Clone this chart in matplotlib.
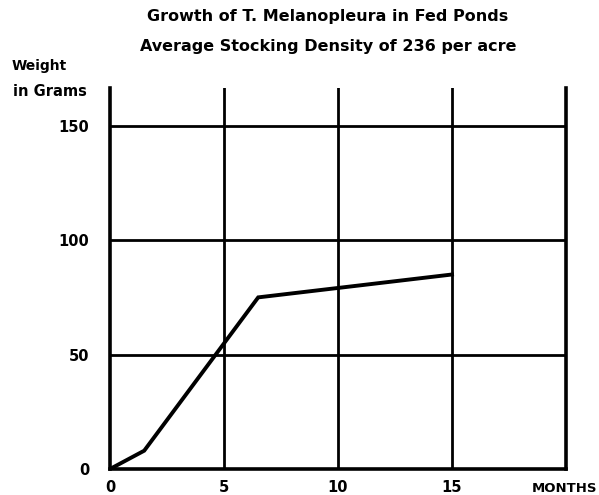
import matplotlib.pyplot as plt

# growth readings: months after stocking vs average weight (g)
months = [0, 1.5, 6.5, 15]
weight = [0, 8, 75, 85]

x_ticks = [0, 5, 10, 15]
y_ticks = [0, 50, 100, 150]

fig = plt.figure(figsize=(5.99, 4.95), dpi=100)
ax = fig.add_axes([110 / 599, 26 / 495, 456 / 599, 381 / 495])

ax.set_xlim(0, 20)
ax.set_ylim(0, 166.5)

# grid drawn as heavy black rules
for xv in x_ticks[1:]:
    ax.axvline(xv, color='black', linewidth=2.0, zorder=1)
for yv in y_ticks[1:]:
    ax.axhline(yv, color='black', linewidth=2.0, zorder=1)

ax.plot(months, weight, color='black', linewidth=2.8, solid_joinstyle='miter', zorder=3)

ax.spines['top'].set_visible(False)
for side in ['left', 'bottom', 'right']:
    ax.spines[side].set_linewidth(2.6)

ax.set_xticks(x_ticks)
ax.set_yticks(y_ticks)
ax.tick_params(length=0, labelsize=10.5, pad=8)
for lab in ax.get_xticklabels() + ax.get_yticklabels():
    lab.set_fontweight('bold')
ax.tick_params(axis='y', pad=15)

fig.text(328 / 599, 1 - 17 / 495, 'Growth of T. Melanopleura in Fed Ponds',
         ha='center', va='center', fontsize=11.5, fontweight='bold')
fig.text(328 / 599, 1 - 47 / 495, 'Average Stocking Density of 236 per acre',
         ha='center', va='center', fontsize=11.5, fontweight='bold')
fig.text(12 / 599, 1 - 66 / 495, 'Weight', ha='left', va='center',
         fontsize=10, fontweight='bold')
fig.text(13 / 599, 1 - 92 / 495, 'in Grams', ha='left', va='center',
         fontsize=10.5, fontweight='bold')
fig.text(597 / 599, 1 - 489 / 495, 'MONTHS', ha='right', va='center',
         fontsize=9.5, fontweight='bold')

fig.savefig('out.png', dpi=100, facecolor='white')
